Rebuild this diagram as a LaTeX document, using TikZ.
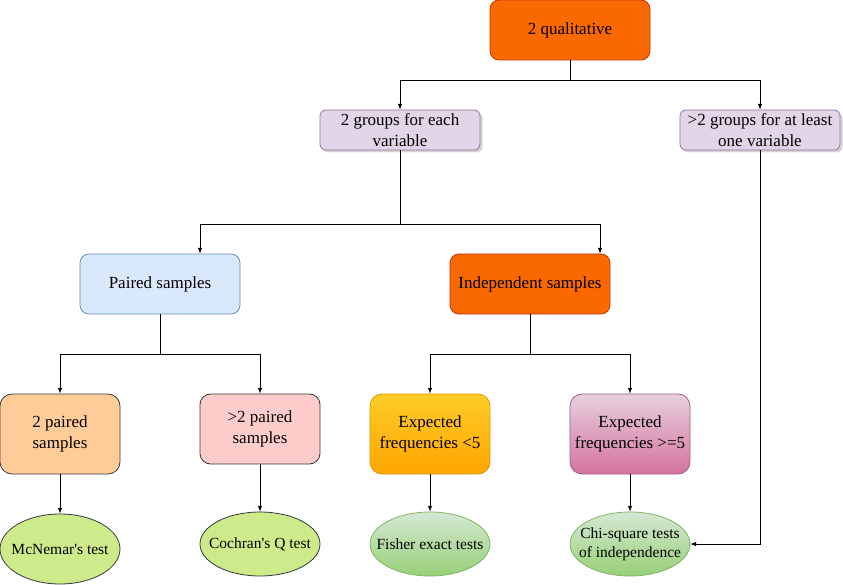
\documentclass[tikz,border=0pt]{standalone}
\usepackage{fontspec}
\setmainfont{Liberation Serif}
\usepackage{tikz}
\usetikzlibrary{shapes,arrows}
\usetikzlibrary{arrows,calc,positioning,shadows}
\tikzset{
        box/.style = {draw, rectangle, rounded corners=9pt,
            align=center, inner sep=0pt, line width=0.8pt,
            font=\fontsize{17}{21}\selectfont},
        leaf/.style = {draw, ellipse, inner sep=0pt, line width=0.8pt,
            minimum width=120pt, minimum height=64pt},
        leaftext/.style = {align=center, inner sep=0pt,
            font=\fontsize{15.5}{19}\selectfont},
        arrow/.style = {draw, -latex, line width=1pt},
        orangebox/.style = {box, fill=orfill, draw=ordraw,
            minimum width=160pt, minimum height=60pt},
        purplebox/.style = {box, fill=pufill, draw=pudraw, rounded corners=6pt,
            minimum width=160pt, minimum height=40pt,
            drop shadow={shadow xshift=2.5pt, shadow yshift=-2.5pt, opacity=0.35}},
    }
\definecolor{orfill}{HTML}{FA6800}
\definecolor{ordraw}{HTML}{C73500}
\definecolor{pufill}{HTML}{E1D5E7}
\definecolor{pudraw}{HTML}{9673A6}
\definecolor{blfill}{HTML}{DAE8FC}
\definecolor{bldraw}{HTML}{6C8EBF}
\definecolor{pefill}{HTML}{FFCC99}
\definecolor{pifill}{HTML}{FFCCCC}
\definecolor{dkdraw}{HTML}{36393D}
\definecolor{yetop}{HTML}{FFCD28}
\definecolor{yebot}{HTML}{FFA500}
\definecolor{yedraw}{HTML}{D79B00}
\definecolor{mvtop}{HTML}{E6D0DE}
\definecolor{mvbot}{HTML}{D5739D}
\definecolor{mvdraw}{HTML}{996185}
\definecolor{limefill}{HTML}{CDEB8B}
\definecolor{grtop}{HTML}{D5E8D4}
\definecolor{grbot}{HTML}{97D077}
\definecolor{grdraw}{HTML}{82B366}

\begin{document}
\begin{tikzpicture}[x=1pt, y=-1pt]
    \useasboundingbox (0,0) rectangle (843,585);

    % top level
    \node[orangebox] (q) at (570,30) {2 qualitative};
    \node[purplebox] (g2) at (400,130) {2 groups for each\\variable};
    \node[purplebox] (gm) at (760,130) {>2 groups for at least\\one variable};

    % samples
    \node[box, fill=blfill, draw=bldraw, minimum width=160pt, minimum height=60pt]
        (ps) at (160,284) {Paired samples};
    \node[orangebox] (is) at (530,284) {Independent samples};

    % conditions
    \node[box, fill=pefill, draw=dkdraw, rounded corners=12pt,
        minimum width=120pt, minimum height=80pt] (p2) at (60,434) {2 paired\\samples};
    \node[box, fill=pifill, draw=dkdraw, rounded corners=10.5pt,
        minimum width=120pt, minimum height=70pt] (pm) at (260,429) {>2 paired\\samples};
    \node[box, top color=yetop, bottom color=yebot, draw=yedraw, rounded corners=12pt,
        minimum width=120pt, minimum height=80pt] (el) at (430,434) {Expected\\frequencies <5};
    \node[box, top color=mvtop, bottom color=mvbot, draw=mvdraw, rounded corners=12pt,
        minimum width=120pt, minimum height=80pt] (eg) at (630,434) {Expected\\frequencies >=5};

    % tests
    \node[leaf, fill=limefill, draw=dkdraw, minimum height=70pt,
        label={[leaftext]center:McNemar\textquotesingle s test}] (mc) at (60,549) {};
    \node[leaf, fill=limefill, draw=dkdraw,
        label={[leaftext]center:Cochran\textquotesingle s Q test}] (co) at (260,544) {};
    \node[leaf, top color=grtop, bottom color=grbot, draw=grdraw,
        label={[leaftext]center:Fisher exact tests}] (fi) at (430,544) {};
    \node[leaf, top color=grtop, bottom color=grbot, draw=grdraw,
        label={[leaftext]center:Chi-square tests\\of independence}] (ch) at (630,544) {};

    \draw[arrow] (q.south) -- ++(0,20) -| (g2.north);
    \draw[arrow] (q.south) -- ++(0,20) -| (gm.north);
    \draw[arrow] (g2.south) -- ++(0,74) -| ($(ps.north)+(40,0)$);
    \draw[arrow] (g2.south) -- ++(0,74) -| ($(is.north)+(70,0)$);
    \draw[arrow] (ps.south) -- ++(0,40) -| (p2.north);
    \draw[arrow] (ps.south) -- ++(0,40) -| (pm.north);
    \draw[arrow] (is.south) -- ++(0,40) -| (el.north);
    \draw[arrow] (is.south) -- ++(0,40) -| (eg.north);
    \draw[arrow] (p2) -- (mc);
    \draw[arrow] (pm) -- (co);
    \draw[arrow] (el) -- (fi);
    \draw[arrow] (eg) -- (ch);
    \draw[arrow] (gm.south) |- (ch.east);
\end{tikzpicture}
\end{document}
